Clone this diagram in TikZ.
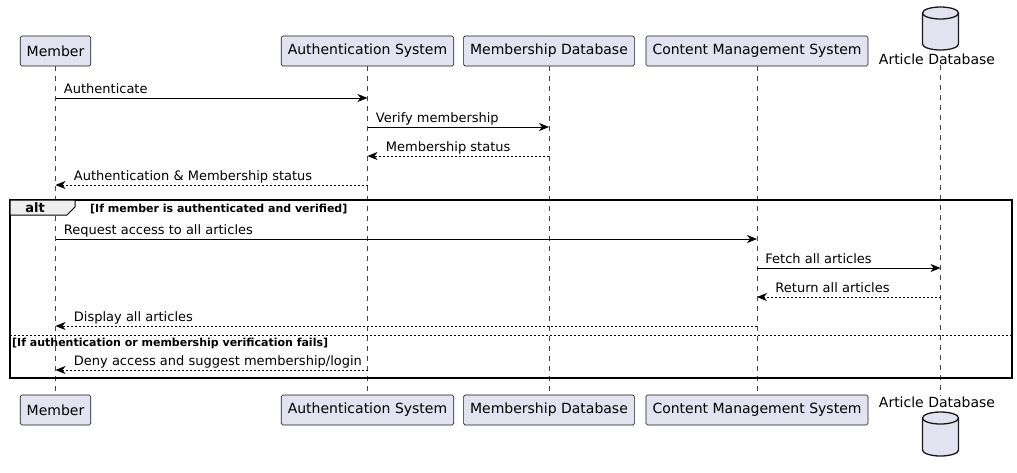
\documentclass[tikz,border=0pt]{standalone}
\usepackage{fontspec}
\setmainfont{DejaVu Sans}
\usetikzlibrary{arrows.meta}
\definecolor{partfill}{HTML}{E2E2F0}
\definecolor{partline}{HTML}{181818}
\definecolor{tabfill}{HTML}{EEEEEE}
\tikzset{
	part/.style={draw=partline, line width=0.6pt, fill=partfill, rounded corners=1.5pt,
		minimum height=30pt, inner xsep=6.5pt, font=\fontsize{14}{16}\selectfont},
	dbline/.style={draw=partline, line width=1.3pt, fill=partfill},
	dblbl/.style={inner sep=0pt, font=\fontsize{14}{16}\selectfont},
	life/.style={partline!80, line width=0.5pt, dash pattern=on 5pt off 5pt},
	call/.style={line width=0.9pt, -{Stealth[length=10pt, width=8pt, inset=3pt]}},
	reply/.style={call, dash pattern=on 2pt off 2pt},
	msglbl/.style={anchor=base west, inner sep=0pt, font=\fontsize{13}{15}\selectfont},
	guard/.style={anchor=west, inner sep=0pt, font=\fontsize{11}{13}\selectfont\bfseries}
}
% database icon: name, x, top y, bottom y
\newcommand{\dbicon}[4]
{
	% body
	\draw[dbline] (#2-18,#3+6) -- (#2-18,#4-6)
		arc[start angle=180, end angle=0, x radius=18, y radius=6] -- (#2+18,#3+6);
	% lid
	\draw[dbline] (#2,#3+6) ellipse [x radius=18, y radius=6];
	\coordinate (#1) at (#2,{(#3+#4)/2});
}
% message from left to right: from, to, y, text
\newcommand{\rmsg}[5]
{
	\draw[#5] (#1 |- 0,#3) -- (#2 |- 0,#3)
		node[msglbl, pos=0, xshift=8pt, yshift=5pt] {#4};
}
% message from right to left: from, to, y, text
\newcommand{\lmsg}[5]
{
	\draw[#5] (#1 |- 0,#3) -- (#2 |- 0,#3)
		node[msglbl, pos=1, xshift=18pt, yshift=5pt] {#4};
}

\begin{document}
\begin{tikzpicture}[x=1pt, y=-1pt]
	\useasboundingbox (0,0) rectangle (1017,472);
	% participants, top row
	\node[part] (memT) at (55.5,51) {Member};
	\node[part] (authT) at (367.5,51) {Authentication System};
	\node[part] (mdbT) at (549,51) {Membership Database};
	\node[part] (cmsT) at (757,51) {Content Management System};
	\dbicon{adbT}{940.5}{7}{50}
	\node[dblbl] (adbTl) at (937,59) {Article Database};
	% participants, bottom row
	\node[part] (memB) at (55.5,410) {Member};
	\node[part] (authB) at (367.5,410) {Authentication System};
	\node[part] (mdbB) at (549,410) {Membership Database};
	\node[part] (cmsB) at (757,410) {Content Management System};
	\node[dblbl] (adbBl) at (937,402) {Article Database};
	\dbicon{adbB}{940.5}{412}{456}
	% lifelines
	\draw[life] (memT) -- (memB);
	\draw[life] (authT) -- (authB);
	\draw[life] (mdbT) -- (mdbB);
	\draw[life] (cmsT) -- (cmsB);
	\draw[life] (adbT |- adbTl.south) -- (adbT |- adbBl.north);
	
	% messages
	\rmsg{memT}{authT}{98}{Authenticate}{call}
	\rmsg{authT}{mdbT}{127}{Verify membership}{call}
	\lmsg{mdbT}{authT}{156}{Membership status}{reply}
	\lmsg{authT}{memT}{185}{Authentication \& Membership status}{reply}
	
	% alt frame
	\draw[line width=1.5pt] (10,200) rectangle (1012,378);
	\draw[line width=1pt, fill=tabfill] (10,200) -- (75,200) -- (75,207) -- (67,215) -- (10,215) -- cycle;
	\node[inner sep=0pt, font=\fontsize{13}{15}\selectfont\bfseries] (altlbl) at (35,207.5) {alt};
	\node[guard] (guard1) at (90,209) {[If member is authenticated and verified]};
	\rmsg{memT}{cmsT}{239}{Request access to all articles}{call}
	\rmsg{cmsT}{adbT}{268}{Fetch all articles}{call}
	\lmsg{adbT}{cmsT}{297}{Return all articles}{reply}
	\lmsg{cmsT}{memT}{326}{Display all articles}{reply}
	\draw[line width=0.6pt, dash pattern=on 2pt off 2pt] (10,335) -- (1012,335);
	\node[guard] (guard2) at (12,343) {[If authentication or membership verification fails]};
	\lmsg{authT}{memT}{370}{Deny access and suggest membership/login}{reply}
\end{tikzpicture}
\end{document}
